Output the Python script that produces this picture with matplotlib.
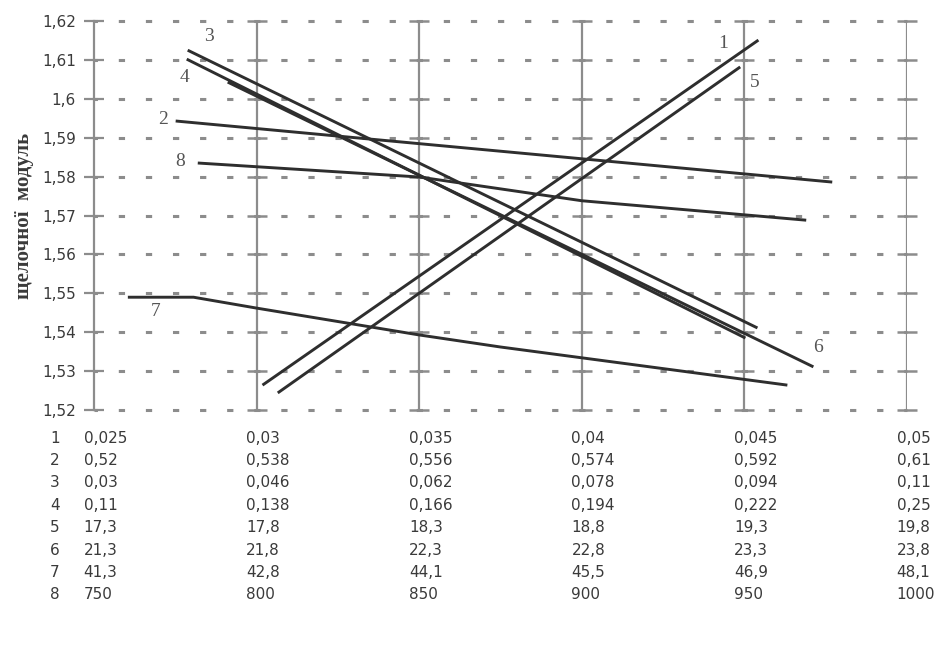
import matplotlib.pyplot as plt

plt.rcParams['lines.scale_dashes'] = False

# axis ticks
x_ticks = [0.025, 0.03, 0.035, 0.04, 0.045, 0.05]
y_ticks = [1.52, 1.53, 1.54, 1.55, 1.56, 1.57, 1.58, 1.59, 1.60, 1.61, 1.62]
y_ticklabels = ['1,52', '1,53', '1,54', '1,55', '1,56', '1,57', '1,58', '1,59', '1,6', '1,61', '1,62']

# parameter table under the plot (one row per curve)
row_names = ['1', '2', '3', '4', '5', '6', '7', '8']
table_rows = [
    ['0,025', '0,03', '0,035', '0,04', '0,045', '0,05'],
    ['0,52', '0,538', '0,556', '0,574', '0,592', '0,61'],
    ['0,03', '0,046', '0,062', '0,078', '0,094', '0,11'],
    ['0,11', '0,138', '0,166', '0,194', '0,222', '0,25'],
    ['17,3', '17,8', '18,3', '18,8', '19,3', '19,8'],
    ['21,3', '21,8', '22,3', '22,8', '23,3', '23,8'],
    ['41,3', '42,8', '44,1', '45,5', '46,9', '48,1'],
    ['750', '800', '850', '900', '950', '1000'],
]

# curves
line1_x = [0.03018, 0.04543]
line1_y = [1.5264, 1.6151]
line2_x = [0.02751, 0.0477]
line2_y = [1.5943, 1.5786]
line3_x = [0.02788, 0.04540]
line3_y = [1.6125, 1.5411]
line4_x = [0.02785, 0.04503]
line4_y = [1.6102, 1.5385]
line5_x = [0.03065, 0.04487]
line5_y = [1.5244, 1.6082]
line6_x = [0.02911, 0.04712]
line6_y = [1.6043, 1.5311]
line7_x = [0.02604, 0.02806, 0.03, 0.035, 0.0375, 0.04632]
line7_y = [1.549, 1.549, 1.5462, 1.5393, 1.5362, 1.5264]
line8_x = [0.02819, 0.035, 0.04, 0.0469]
line8_y = [1.5835, 1.5799, 1.5738, 1.5688]

curves = [(line1_x, line1_y), (line2_x, line2_y), (line3_x, line3_y), (line4_x, line4_y),
          (line5_x, line5_y), (line6_x, line6_y), (line7_x, line7_y), (line8_x, line8_y)]

# where the curve numbers sit
label_pos = {'1': (0.04435, 1.6143), '2': (0.02711, 1.5946), '3': (0.02852, 1.6159),
             '4': (0.02779, 1.6056), '5': (0.04533, 1.6043), '6': (0.04727, 1.5362),
             '7': (0.02690, 1.5452), '8': (0.02766, 1.5838)}

grid_col = '#8c8c8c'
ink = '#2e2e2e'
txt = '#3a3a3a'

fig = plt.figure(figsize=(9.47, 6.45), dpi=100)
ax = fig.add_axes([0.0993, 0.3643, 0.8585, 0.6031])
ax.set_xlim(0.025, 0.05)
ax.set_ylim(1.52, 1.62)

for s in ['top', 'bottom', 'right']:
    ax.spines[s].set_visible(False)
ax.spines['left'].set_color(grid_col)
ax.spines['left'].set_linewidth(1.6)

# dashed horizontal grid
for y in y_ticks:
    ax.axhline(y, color=grid_col, lw=2.2, linestyle=(2, (4.5, 15)), zorder=1, clip_on=False)

# solid vertical grid with small crosses at each level
for x in x_ticks[1:]:
    ax.axvline(x, color=grid_col, lw=1.6, zorder=1)
    ax.plot([x] * len(y_ticks), y_ticks, ls='none', marker='_', ms=14, mew=1.8,
            color=grid_col, zorder=1, clip_on=False)

ax.set_xticks([])
ax.set_yticks(y_ticks)
ax.set_yticklabels(y_ticklabels, fontsize=11, color=txt)
ax.tick_params(axis='y', direction='inout', length=14, width=1.6, color=grid_col, pad=6)

ax.set_ylabel('щелочної  модуль', fontsize=15, fontweight='bold', family='Liberation Serif',
              color=txt, labelpad=6)

for cx, cy in curves:
    ax.plot(cx, cy, color=ink, lw=2.1, solid_capstyle='butt', zorder=3, clip_on=False)

for name, (lx, ly) in label_pos.items():
    ax.text(lx, ly, name, fontsize=14, color='#555555', ha='center', va='center',
            family='Liberation Serif', zorder=4)

# table of parameter values below the axis
tr = ax.get_xaxis_transform()
for i, row in enumerate(table_rows):
    ya = -(28 + i * 22.4) / 389.0
    ax.text(0.025 - 0.00135, ya, row_names[i], transform=tr, fontsize=11,
            color=txt, ha='left', va='center')
    for j, val in enumerate(row):
        ax.text(x_ticks[j] - 0.00032, ya, val, transform=tr, fontsize=11,
                color=txt, ha='left', va='center')

fig.savefig('out.png', dpi=100, facecolor='white')
